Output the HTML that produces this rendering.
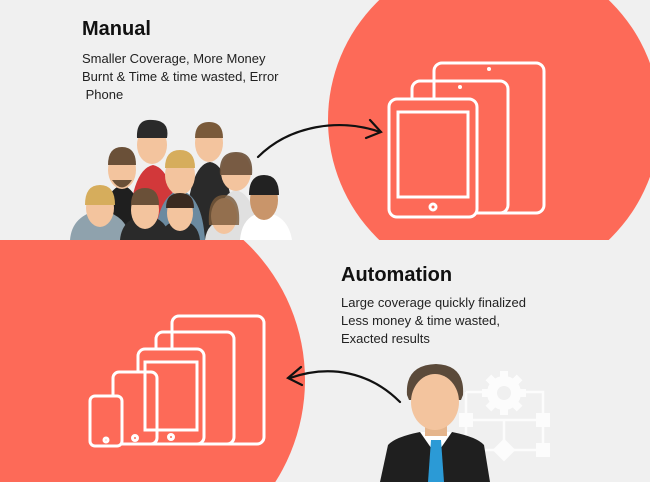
<!DOCTYPE html>
<html style="overflow:hidden;width:650px;height:482px"><head><style>
html,body{margin:0;padding:0}
body{width:650px;height:482px;overflow:hidden;background:#f0f0f0;font-family:"Liberation Sans",sans-serif;position:relative}
h1{position:absolute;margin:0;font-size:20px;font-weight:bold;color:#111}
p{position:absolute;margin:0;font-size:13px;line-height:18px;color:#222}
svg{display:block}
</style></head><body>
<svg width="650" height="482" style="position:absolute;left:0;top:0">
<defs>
<clipPath id="top"><rect x="0" y="0" width="650" height="240"/></clipPath>
<clipPath id="bot"><rect x="0" y="240" width="650" height="242"/></clipPath>
</defs>
<rect width="650" height="482" fill="#f0f0f0"/>
<circle cx="494" cy="120" r="166" fill="#fd6a58" clip-path="url(#top)"/>
<circle cx="115" cy="380" r="190" fill="#fd6a58" clip-path="url(#bot)"/>
<g fill="none" stroke="#fff" stroke-width="3">
<rect x="434" y="63" width="110" height="150" rx="8"/>
<rect x="412" y="81" width="96" height="132" rx="8"/>
<rect x="389" y="99" width="88" height="118" rx="8" fill="#fd6a58"/>
<rect x="398" y="112" width="70" height="85" fill="none"/>
<circle cx="433" cy="207" r="3"/>
</g>
<g fill="#fff"><circle cx="489" cy="69" r="2"/><circle cx="460" cy="87" r="2"/></g>
<g fill="none" stroke="#fff" stroke-width="3">
<rect x="172" y="316" width="92" height="128" rx="7"/>
<rect x="156" y="332" width="78" height="112" rx="7"/>
<rect x="138" y="349" width="66" height="95" rx="7" fill="#fd6a58"/>
<rect x="113" y="372" width="44" height="72" rx="6" fill="#fd6a58"/>
<rect x="90" y="396" width="32" height="50" rx="5" fill="#fd6a58"/>
<rect x="145" y="362" width="52" height="68"/>
<circle cx="171" cy="437" r="2.5"/>
<circle cx="135" cy="438" r="2.5"/>
<circle cx="106" cy="440" r="2"/>
</g>
<g fill="none" stroke="#111" stroke-width="2.2" stroke-linecap="round">
<path d="M258 157 C290 125 340 118 380 132"/>
<path d="M370 120 L381 132 L366 138"/>
<path d="M400 402 C370 372 330 364 290 378"/>
<path d="M301 367 L288 378 L302 385"/>
</g>
<g opacity="0.85">
<g fill="none" stroke="#fff" stroke-width="2.5">
<path d="M466 392 H543 V450 M466 392 V450 H543 M504 420 V450 M466 420 H543"/>
</g>
<g fill="#fff">
<circle cx="504" cy="393" r="17"/>
<g transform="translate(504,393)"><rect x="-4" y="-22" width="8" height="44"/><rect x="-22" y="-4" width="44" height="8"/><rect x="-4" y="-22" width="8" height="44" transform="rotate(45)"/><rect x="-4" y="-22" width="8" height="44" transform="rotate(-45)"/></g>
<rect x="459" y="413" width="14" height="14"/><rect x="536" y="413" width="14" height="14"/>
<rect x="536" y="443" width="14" height="14"/><rect x="496" y="442" width="16" height="16" transform="rotate(45 504 450)"/>
</g>
</g>
<circle cx="504" cy="393" r="7" fill="#f0f0f0"/>
<path d="M380 482 L388 445 Q395 437 420 432 L452 432 Q477 437 484 445 L490 482Z" fill="#1f1f1f"/>
<path d="M420 432 L436 455 L452 432 Z" fill="#fff"/>
<path d="M431 440 L441 440 L444 482 L428 482Z" fill="#2b9ad6"/>
<rect x="425" y="420" width="22" height="16" fill="#e5b58c"/>
<path d="M407 395 Q405 365 436 364 Q465 365 463 395 L461 400 L409 400Z" fill="#5b4a3a"/>
<ellipse cx="435" cy="402" rx="24" ry="28" fill="#f3c49e"/>
<g clip-path="url(#top)">
<path d="M128 240 Q130 170 153 165 Q176 170 178 240Z" fill="#d2383a"/>
<ellipse cx="152" cy="145" rx="15" ry="19" fill="#f3c49e"/>
<path d="M137 138 Q136 118 153 120 Q170 121 167 138Z" fill="#2a2a2a"/>
<path d="M185 240 Q188 165 210 162 Q232 165 235 240Z" fill="#2a2a2a"/>
<ellipse cx="209" cy="143" rx="14" ry="19" fill="#f3c49e"/>
<path d="M195 138 Q195 122 209 122 Q223 122 223 138Z" fill="#7a5a3a"/>
<path d="M100 240 Q102 190 122 185 Q142 190 144 240Z" fill="#1f1f1f"/>
<ellipse cx="122" cy="170" rx="14" ry="19" fill="#f3c49e"/>
<path d="M108 165 Q108 147 122 147 Q136 147 136 165Z" fill="#6a5038"/>
<path d="M112 180 Q122 195 132 180Z" fill="#6a5038"/>
<path d="M155 240 Q158 195 180 190 Q202 195 205 240Z" fill="#6b8aa0"/>
<ellipse cx="180" cy="175" rx="15" ry="20" fill="#f3c49e"/>
<path d="M165 168 Q165 150 180 150 Q195 150 195 168Z" fill="#d6ad5c"/>
<path d="M215 240 Q216 195 236 190 Q256 195 258 240Z" fill="#e0e0e0"/>
<ellipse cx="236" cy="172" rx="15" ry="19" fill="#f3c49e"/>
<path d="M220 175 Q218 152 236 152 Q254 152 252 175Z" fill="#6a5038" opacity=".9"/>
<path d="M70 240 Q72 215 100 210 Q128 215 130 240Z" fill="#8fa2ad"/>
<ellipse cx="100" cy="208" rx="14" ry="19" fill="#f3c49e"/>
<path d="M85 205 Q85 185 100 185 Q115 185 115 205Z" fill="#d6ad5c"/>
<path d="M120 240 Q122 218 145 215 Q168 218 170 240Z" fill="#2a2a2a"/>
<ellipse cx="145" cy="210" rx="14" ry="19" fill="#f3c49e"/>
<path d="M131 205 Q131 188 145 188 Q159 188 159 205Z" fill="#6a5038"/>
<path d="M160 240 Q162 222 180 220 Q198 222 200 240Z" fill="#2a2a2a"/>
<ellipse cx="180" cy="213" rx="13" ry="18" fill="#f3c49e"/>
<path d="M166 208 Q166 193 180 193 Q194 193 194 208Z" fill="#3a2a20"/>
<path d="M205 240 Q207 222 224 220 Q241 222 243 240Z" fill="#e0e0e0"/>
<ellipse cx="224" cy="216" rx="13" ry="18" fill="#f3c49e"/>
<path d="M209 225 Q207 195 224 195 Q241 195 239 225Z" fill="#7a5a3a" opacity=".8"/>
<path d="M240 240 Q242 215 264 212 Q288 215 292 240Z" fill="#fff"/>
<ellipse cx="264" cy="200" rx="14" ry="20" fill="#c9956a"/>
<path d="M249 195 Q249 175 264 175 Q279 175 279 195Z" fill="#222"/>
</g>
</svg>
<h1 style="left:82px;top:18px">Manual</h1>
<p style="left:82px;top:50px">Smaller Coverage, More Money<br>Burnt &amp; Time &amp; time wasted, Error<br>&nbsp;Phone</p>
<h1 style="left:341px;top:264px">Automation</h1>
<p style="left:341px;top:294px">Large coverage quickly finalized<br>Less money &amp; time wasted,<br>Exacted results</p>
</body></html>
